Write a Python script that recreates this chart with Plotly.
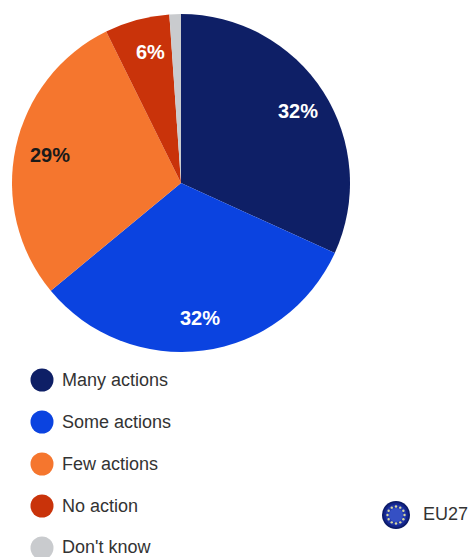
import math
import plotly.graph_objects as go

W, H = 468, 557

categories = ["Many actions", "Some actions", "Few actions", "No action", "Don't know"]
values = [31.8, 32.2, 28.7, 6.2, 1.1]
colors = ["#0E1F66", "#0B43E0", "#F5762E", "#C9330A", "#C9CBCE"]
label_positions = [(298, 111), (200, 318), (50, 155), (150, 52)]
legend_ys = [380, 422, 464, 506, 547]
flag_label = "EU27"

FONT = "Liberation Sans"


def px(x):
    return x / W


def py(y):
    return 1 - y / H


def circle(cx, cy, r, fill):
    return dict(type="circle", xref="paper", yref="paper",
                x0=px(cx - r), x1=px(cx + r), y0=py(cy + r), y1=py(cy - r),
                fillcolor=fill, line=dict(width=0), layer="above")


fig = go.Figure(go.Pie(
    labels=categories, values=values, sort=False, direction="clockwise", rotation=0,
    marker=dict(colors=colors, line=dict(width=0)),
    textinfo="none", hoverinfo="label+percent", showlegend=False,
    domain=dict(x=[px(12), px(350)], y=[py(352), py(14)]),
))

shapes, annotations = [], []

for v, (x, y), c in zip(values, label_positions, colors):
    annotations.append(dict(
        text=f"{round(v)}%", x=px(x), y=py(y), xref="paper", yref="paper", showarrow=False,
        xanchor="center", yanchor="middle",
        font=dict(family=FONT, size=20, color="#1A1A1A" if c == "#F5762E" else "white", weight="bold"),
    ))

for name, y, c in zip(categories, legend_ys, colors):
    shapes.append(circle(42, 548 if name == "Don't know" else y, 11.5, c))
    annotations.append(dict(
        text=name, x=px(60), y=py(y), xref="paper", yref="paper", showarrow=False,
        xanchor="left", yanchor="middle",
        font=dict(family=FONT, size=18, color="#333333"),
    ))

# EU flag badge
flag_cx, flag_cy = 396, 515
for r, c in [(14, "#0B1A66"), (12.5, "#14258A"), (10.5, "#2238A8"), (7, "#3550C4")]:
    shapes.append(circle(flag_cx, flag_cy, r, c))
for i in range(12):
    a = math.radians(i * 30)
    shapes.append(circle(flag_cx + 8.5 * math.cos(a), flag_cy + 8.5 * math.sin(a), 1.2, "#D8D8A0"))
annotations.append(dict(
    text=flag_label, x=px(421), y=py(514), xref="paper", yref="paper", showarrow=False,
    xanchor="left", yanchor="middle",
    font=dict(family=FONT, size=18, color="#333333"),
))

fig.update_layout(
    width=W, height=H, margin=dict(l=0, r=0, t=0, b=0),
    paper_bgcolor="white", plot_bgcolor="white",
    shapes=shapes, annotations=annotations,
)
fig.write_html(
    "out.html",
    config=dict(displayModeBar=False),
    post_script="document.body.style.margin='0';document.documentElement.style.overflow='hidden';",
)
